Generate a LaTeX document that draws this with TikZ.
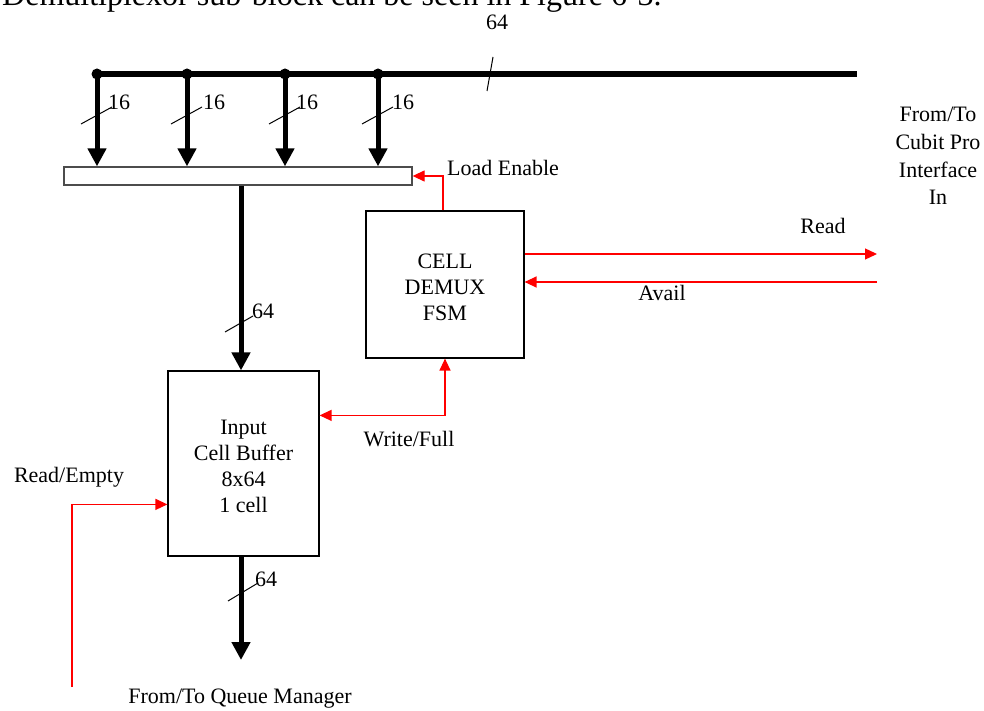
\documentclass[tikz,border=0pt]{standalone}
\usepackage{fontspec}
\setmainfont{Liberation Serif}
\usetikzlibrary{arrows.meta,calc}
\tikzset{
  lbl/.style={inner sep=0pt, font=\fontsize{22}{26}\selectfont},
  blk/.style={draw, line width=1.2pt, fill=white, inner sep=0pt},
  regbox/.style={draw=black!70, line width=1.3pt, fill=white, inner sep=0pt, minimum width=348pt, minimum height=18pt},
  bus/.style={line width=6pt},
  bigarrow/.style={line width=5pt, -{Triangle[width=18pt,length=18pt]}},
  redarr/.style={red, line width=1.3pt, -{Triangle[width=11pt,length=12pt]}},
  redarrb/.style={red, line width=1.3pt, {Triangle[width=11pt,length=12pt]}-{Triangle[width=11pt,length=12pt]}},
  slash/.style={line width=1pt},
}
\begin{document}
\begin{tikzpicture}[x=1pt,y=-1pt]
\clip (0,0) rectangle (984,711);
\fill[white] (0,0) rectangle (984,711);
% cut-off caption line at the top (as in the reference)
\node[anchor=base west, inner sep=0pt, font=\fontsize{32}{36}\selectfont] (cap) at (2,6) {Demultiplexor sub-block can be seen in Figure 6-3.};
% bus
\coordinate (b0) at (97,74);
\coordinate (b1) at (857,74);
\coordinate (d1) at (97,74);
\coordinate (d2) at (187,74);
\coordinate (d3) at (285,74);
\coordinate (d4) at (378,74);
\draw[bus] (b0) -- (b1);
\foreach \d in {d1,d2,d3,d4} \fill (\d) circle (5.5pt);
\draw[slash] (487,91) -- (493,57);
\node[lbl] (bus64) at (497,22) {64};
% register
\node[regbox] (reg) at (238,176) {};
% vertical 16-bit arrows
\foreach \d/\lx in {d1/119,d2/214,d3/307,d4/403} {
  \draw[bigarrow] (\d) -- (\d |- reg.north);
  \draw[slash] ($(\d)+(-16,50)$) -- ($(\d)+(15,33)$);
  \node[lbl] at (\lx,102) {16};
}
% blocks
\node[blk, minimum width=151pt, minimum height=185pt] (buf) at (243.5,463.5) {};
\node[lbl, align=center] (buftxt) at (243.5,466) {Input\\[0pt]Cell Buffer\\8x64\\1 cell};
\node[blk, minimum width=158pt, minimum height=147pt] (fsm) at (445,284.5) {};
\node[lbl, align=center] (fsmtxt) at (445,287) {CELL\\DEMUX\\FSM};
% data path register -> buffer
\coordinate (dx) at (241,0);
\draw[bigarrow] (dx |- reg.south) -- (dx |- buf.north);
\draw[slash] (225,332) -- (253,316);
\node[lbl] (m64) at (263,311) {64};
% buffer -> queue manager
\coordinate (qout) at (241,660);
\draw[bigarrow] (qout |- buf.south) -- (qout);
\draw[slash] (228,601) -- (258,583);
\node[lbl] (o64) at (266,579) {64};
\node[lbl] (qm) at (240,699) {From/To Queue Manager};
% red control signals
\draw[redarr] ([xshift=-2pt]fsm.north) |- (reg.east);
\node[lbl] (le) at (503,168) {Load Enable};
\coordinate (cr) at (877,254);
\coordinate (ca) at (877,282);
\draw[redarr] (fsm.east |- cr) -- (cr);
\node[lbl] (rd) at (823,226) {Read};
\draw[redarr] (ca) -- (ca -| fsm.east);
\node[lbl] (av) at (662,293) {Avail};
\draw[redarrb] ($(buf.north east)+(0,45)$) -| (fsm.south);
\node[lbl] (wf) at (409,439) {Write/Full};
\coordinate (re) at (72,687);
\draw[redarr] (re) |- ($(buf.north west)+(0,134)$);
\node[lbl] (ret) at (69,477) {Read/Empty};
\node[lbl, align=center, font=\fontsize{22}{27.7}\selectfont] (cubit) at (938,156) {From/To\\Cubit Pro\\Interface\\In};
\end{tikzpicture}
\end{document}
